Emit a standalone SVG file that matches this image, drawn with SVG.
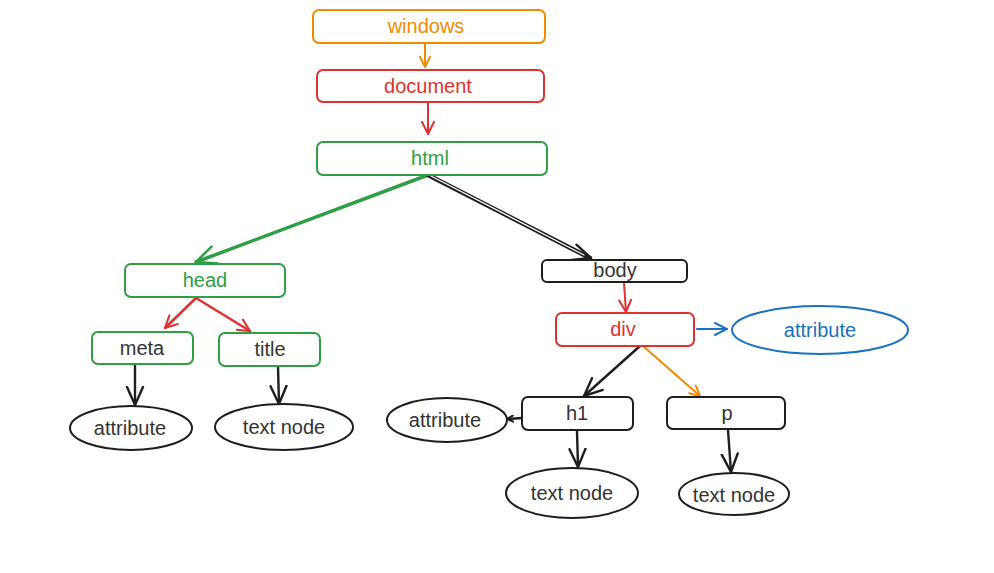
<svg xmlns="http://www.w3.org/2000/svg" width="994" height="573" viewBox="0 0 994 573">
  <defs>
    <style>
      text { font-family: "Liberation Sans", Arial, sans-serif; font-size: 20px; text-anchor: middle; dominant-baseline: central; }
      .box { fill: #ffffff; stroke-width: 2; }
      .orange { stroke: #f08c00; }
      .red { stroke: #e03131; }
      .green { stroke: #2f9e44; }
      .blue { stroke: #1971c2; }
      .black { stroke: #1e1e1e; }
      .t-orange { fill: #f08c00; }
      .t-red { fill: #e03131; }
      .t-green { fill: #2f9e44; }
      .t-blue { fill: #1971c2; }
      .t-dark { fill: #333333; }
      .edge { fill: none; stroke-linecap: round; }
    </style>
    <marker id="ah-orange" viewBox="0 0 12 12" refX="11" refY="6" markerWidth="12" markerHeight="12" markerUnits="userSpaceOnUse" orient="auto">
      <path d="M1,1 L11,6 L1,11" fill="none" stroke="#f08c00" stroke-width="2" stroke-linecap="round"/>
    </marker>
    <marker id="ah-red" viewBox="0 0 14 14" refX="13" refY="7" markerWidth="14" markerHeight="14" markerUnits="userSpaceOnUse" orient="auto">
      <path d="M1,1 L13,7 L1,13" fill="none" stroke="#e03131" stroke-width="2" stroke-linecap="round"/>
    </marker>
    <marker id="ah-green" viewBox="0 0 22 22" refX="21" refY="11" markerWidth="22" markerHeight="22" markerUnits="userSpaceOnUse" orient="auto">
      <path d="M1,2 L21,11 L1,20" fill="none" stroke="#2f9e44" stroke-width="2.5" stroke-linecap="round"/>
    </marker>
    <marker id="ah-blue" viewBox="0 0 14 14" refX="13" refY="7" markerWidth="14" markerHeight="14" markerUnits="userSpaceOnUse" orient="auto">
      <path d="M1,1 L13,7 L1,13" fill="none" stroke="#1971c2" stroke-width="2" stroke-linecap="round"/>
    </marker>
    <marker id="ah-black" viewBox="0 0 20 20" refX="19" refY="10" markerWidth="20" markerHeight="20" markerUnits="userSpaceOnUse" orient="auto">
      <path d="M1,2 L19,10 L1,18" fill="none" stroke="#1e1e1e" stroke-width="2.4" stroke-linecap="round"/>
    </marker>
    <marker id="ah-black-s" viewBox="0 0 8 8" refX="7" refY="4" markerWidth="8" markerHeight="8" markerUnits="userSpaceOnUse" orient="auto">
      <path d="M1,1 L7,4 L1,7" fill="none" stroke="#1e1e1e" stroke-width="2" stroke-linecap="round"/>
    </marker>
  </defs>

  <!-- connectors -->
  <g id="edges">
    <path class="edge orange" stroke-width="2" d="M425,43 L425,67" marker-end="url(#ah-orange)"/>
    <path class="edge red" stroke-width="2" d="M428,102 L428,134" marker-end="url(#ah-red)"/>
    <path class="edge green" stroke-width="3.5" d="M428,175 L196,262" marker-end="url(#ah-green)"/>
    <path class="edge black" stroke-width="4.5" d="M428,175 L590,258"/>
    <path class="edge" stroke="#ffffff" stroke-width="1.2" d="M431,176 L584,255"/>
    <path class="edge black" stroke-width="1.5" d="M588,257 L591,258" marker-end="url(#ah-black)"/>
    <path class="edge red" stroke-width="2.5" d="M196,298 L165,328" marker-end="url(#ah-red)"/>
    <path class="edge red" stroke-width="2.5" d="M196,298 L250,331" marker-end="url(#ah-red)"/>
    <path class="edge black" stroke-width="2.4" d="M135,365 L135,405" marker-end="url(#ah-black)"/>
    <path class="edge black" stroke-width="2.4" d="M278,366 L279,404" marker-end="url(#ah-black)"/>
    <path class="edge red" stroke-width="2" d="M624,283 L626,312" marker-end="url(#ah-red)"/>
    <path class="edge blue" stroke-width="2" d="M697,329 L727,329" marker-end="url(#ah-blue)"/>
    <path class="edge black" stroke-width="2.4" d="M640,346 L584,396" marker-end="url(#ah-black)"/>
    <path class="edge orange" stroke-width="2" d="M643,346 L700,396" marker-end="url(#ah-orange)"/>
    <path class="edge black" stroke-width="2.5" d="M522,418 L507,419" marker-end="url(#ah-black-s)"/>
    <path class="edge black" stroke-width="2.4" d="M577,431 L578,467" marker-end="url(#ah-black)"/>
    <path class="edge black" stroke-width="2.4" d="M728,430 L731,472" marker-end="url(#ah-black)"/>
  </g>

  <g id="windows">
    <rect class="box orange" x="313" y="10" width="232" height="33" rx="6"/>
    <text class="t-orange" x="426" y="26">windows</text>
  </g>
  <g id="document">
    <rect class="box red" x="317" y="70" width="227" height="32" rx="6"/>
    <text class="t-red" x="428" y="86">document</text>
  </g>
  <g id="html">
    <rect class="box green" x="317" y="142" width="230" height="33" rx="6"/>
    <text class="t-green" x="430" y="158">html</text>
  </g>
  <g id="head">
    <rect class="box green" x="125" y="264" width="160" height="33" rx="6"/>
    <text class="t-green" x="205" y="280">head</text>
  </g>
  <g id="body">
    <rect class="box black" x="542" y="260" width="145" height="22" rx="5"/>
    <text class="t-dark" x="615" y="270">body</text>
  </g>
  <g id="div">
    <rect class="box red" x="556" y="313" width="138" height="33" rx="6"/>
    <text class="t-red" x="623" y="329">div</text>
  </g>
  <g id="div-attribute">
    <ellipse class="box blue" cx="820" cy="330" rx="88" ry="24" stroke-width="2.5"/>
    <text class="t-blue" x="820" y="330">attribute</text>
  </g>
  <g id="meta">
    <rect class="box green" x="92" y="332" width="101" height="32" rx="6"/>
    <text class="t-dark" x="142" y="348">meta</text>
  </g>
  <g id="title">
    <rect class="box green" x="219" y="333" width="101" height="33" rx="6"/>
    <text class="t-dark" x="270" y="349">title</text>
  </g>
  <g id="meta-attribute">
    <ellipse class="box black" cx="131" cy="428" rx="61" ry="22" stroke-width="3"/>
    <text class="t-dark" x="130" y="428">attribute</text>
  </g>
  <g id="title-text">
    <ellipse class="box black" cx="284" cy="427" rx="69" ry="23" stroke-width="2.6"/>
    <text class="t-dark" x="284" y="427">text node</text>
  </g>
  <g id="h1">
    <rect class="box black" x="522" y="397" width="111" height="33" rx="6"/>
    <text class="t-dark" x="577" y="413">h1</text>
  </g>
  <g id="p">
    <rect class="box black" x="667" y="397" width="118" height="32" rx="6"/>
    <text class="t-dark" x="727" y="413">p</text>
  </g>
  <g id="h1-attribute">
    <ellipse class="box black" cx="447" cy="420" rx="60" ry="22" stroke-width="3"/>
    <text class="t-dark" x="445" y="420">attribute</text>
  </g>
  <g id="h1-text">
    <ellipse class="box black" cx="572" cy="493" rx="66" ry="25" stroke-width="2.6"/>
    <text class="t-dark" x="572" y="493">text node</text>
  </g>
  <g id="p-text">
    <ellipse class="box black" cx="734" cy="494" rx="55" ry="21" stroke-width="3"/>
    <text class="t-dark" x="734" y="495">text node</text>
  </g>
</svg>
